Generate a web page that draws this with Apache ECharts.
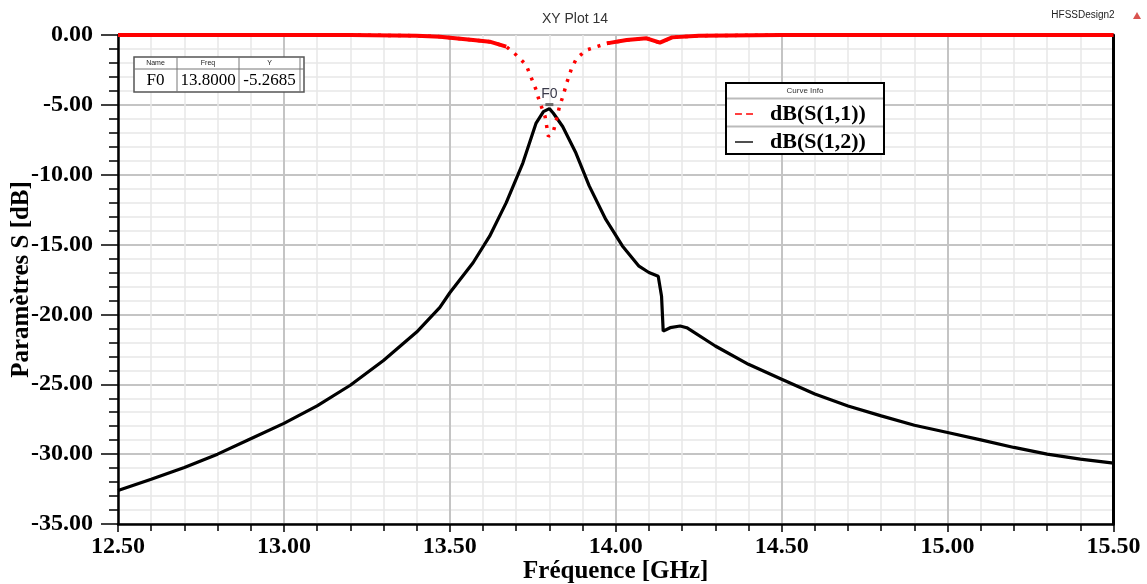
<!DOCTYPE html>
<html><head><meta charset="utf-8">
<script src="https://cdn.jsdelivr.net/npm/echarts@6/dist/echarts.min.js"></script>
<style>html,body{margin:0;padding:0;background:#fff}#c{width:1147px;height:584px}</style>
</head><body><div id="c"></div>
<script>
// ---- data ----
const chartTitle = 'XY Plot 14';
const designName = 'HFSSDesign2';
const xName = 'Fréquence [GHz]';
const yName = 'Paramètres S [dB]';
const seriesNames = ['dB(S(1,1))', 'dB(S(1,2))'];
const xRange = [12.5, 15.5, 0.5];
const yRange = [-35, 0, 5];

const s12Freq = [12.5, 12.6, 12.7, 12.8, 12.9, 13.0, 13.1, 13.2, 13.3, 13.4, 13.47, 13.5, 13.57, 13.62, 13.67, 13.72, 13.76, 13.782, 13.8, 13.812, 13.84, 13.88, 13.92, 13.97, 14.02, 14.07, 14.10, 14.128, 14.138, 14.143, 14.164, 14.194, 14.214, 14.3, 14.4, 14.5, 14.6, 14.7, 14.8, 14.9, 15.0, 15.1, 15.2, 15.3, 15.4, 15.5];
const s12Val  = [-32.6, -31.8, -30.95, -30.0, -28.9, -27.8, -26.55, -25.07, -23.3, -21.26, -19.5, -18.45, -16.3, -14.4, -12.0, -9.17, -6.3, -5.48, -5.27, -5.6, -6.55, -8.45, -10.8, -13.2, -15.1, -16.55, -17.0, -17.26, -18.7, -21.2, -20.95, -20.83, -20.95, -22.26, -23.57, -24.64, -25.7, -26.55, -27.26, -27.93, -28.45, -28.98, -29.52, -30.0, -30.36, -30.64];

const s11Freq = [12.5, 13.0, 13.2, 13.4, 13.47, 13.57, 13.62, 13.67, 13.70, 13.73, 13.74, 13.76, 13.77, 13.787, 13.797, 13.812, 13.82, 13.83, 13.842, 13.852, 13.867, 13.882, 13.912, 13.973, 14.033, 14.093, 14.133, 14.17, 14.25, 14.5, 15.0, 15.5];
const s11Val  = [0, 0, 0, -0.05, -0.12, -0.36, -0.48, -0.83, -1.43, -2.14, -2.74, -3.93, -4.76, -5.83, -7.26, -6.9, -6.19, -5.17, -4.29, -3.45, -2.38, -1.67, -1.07, -0.6, -0.36, -0.24, -0.55, -0.17, -0.05, 0, 0, 0];

const markerName = 'F0';
const markerFreq = 13.8;
const markerY = -5.2685;
const markerHeaders = ['Name', 'Freq', 'Y'];

// ---- chart ----
const serif = "'Liberation Serif','Times New Roman',serif";
const sans = "'Liberation Sans',Arial,sans-serif";
const s12Data = s12Freq.map((f, i) => [f, s12Val[i]]);
const s11All = s11Freq.map((f, i) => [f, s11Val[i]]);
const s11Flat = s11Freq.map((f, i) => [f, s11Val[i] > -1 ? s11Val[i] : null]);

const chart = echarts.init(document.getElementById('c'), null, {renderer: 'canvas'});
const labelStyle = {fontFamily: serif, fontWeight: 'bold', fontSize: 24, color: '#000'};

chart.setOption({
  animation: false,
  backgroundColor: '#fff',
  title: {
    text: chartTitle, left: 570, top: 7, textAlign: 'center',
    textStyle: {fontFamily: sans, fontSize: 14, fontWeight: 'normal', color: '#333'}
  },
  grid: {left: 118, right: 33.5, top: 35, bottom: 60, outerBoundsMode: 'none', containLabel: false,
         show: true, borderColor: '#000', borderWidth: 1, backgroundColor: 'transparent'},
  xAxis: {
    type: 'value', min: xRange[0], max: xRange[1], interval: xRange[2],
    name: xName, nameLocation: 'middle', nameGap: 35, nameMoveOverlap: false,
    nameTextStyle: {fontFamily: serif, fontWeight: 'bold', fontSize: 25, color: '#000'},
    axisLine: {show: true, onZero: false, lineStyle: {color: '#000', width: 2.5}},
    axisTick: {show: true, length: 8, lineStyle: {color: '#000', width: 1.5}},
    minorTick: {show: true, splitNumber: 5, length: 7, lineStyle: {color: '#000', width: 1.5}},
    splitLine: {show: true, lineStyle: {color: '#c4c4c4', width: 2}},
    minorSplitLine: {show: true, lineStyle: {color: '#e8e8e8', width: 1.5}},
    axisLabel: Object.assign({margin: 11, formatter: v => v.toFixed(2)}, labelStyle)
  },
  yAxis: [{
    type: 'value', min: yRange[0], max: yRange[1], interval: yRange[2],
    name: yName, nameLocation: 'middle', nameGap: 84, nameRotate: 90, nameMoveOverlap: false,
    nameTextStyle: {fontFamily: serif, fontWeight: 'bold', fontSize: 25, color: '#000'},
    axisLine: {show: true, onZero: false, lineStyle: {color: '#000', width: 2.5}},
    axisTick: {show: true, length: 17, lineStyle: {color: '#000', width: 1.5}},
    minorTick: {show: true, splitNumber: 5, length: 9, lineStyle: {color: '#000', width: 1.5}},
    splitLine: {show: true, lineStyle: {color: '#c4c4c4', width: 2}},
    minorSplitLine: {show: true, lineStyle: {color: '#e8e8e8', width: 1.5}},
    axisLabel: Object.assign({margin: 25, formatter: v => v.toFixed(2)}, labelStyle)
  }, {
    type: 'value', min: yRange[0], max: yRange[1], interval: yRange[2], position: 'right',
    axisLine: {show: true, lineStyle: {color: '#000', width: 3}},
    axisTick: {show: false}, axisLabel: {show: false}, splitLine: {show: false}
  }],
  legend: {
    orient: 'vertical', left: 730, top: 98, itemGap: 6, itemWidth: 18, itemHeight: 10, z: 10,
    data: [
      {name: seriesNames[0], icon: 'path://M0,0H5V1.2H0Z M8,0H13V1.2H8Z', itemStyle: {color: '#ff0000'}, lineStyle: {opacity: 0}},
      {name: seriesNames[1], icon: 'path://M0,0H13V1H0Z', itemStyle: {color: '#000'}, lineStyle: {opacity: 0}}
    ],
    textStyle: {fontFamily: serif, fontWeight: 'bold', fontSize: 22, color: '#000', lineHeight: 21, padding: [0, 0, 0, 12]}
  },
  graphic: [
    {type: 'rect', z: 5, shape: {x: 726, y: 83, width: 158, height: 71}, style: {fill: '#fff', stroke: '#000', lineWidth: 2}},
    {type: 'line', z: 6, shape: {x1: 727, y1: 98.5, x2: 883, y2: 98.5}, style: {stroke: '#bbb', lineWidth: 2}},
    {type: 'line', z: 6, shape: {x1: 727, y1: 126.5, x2: 883, y2: 126.5}, style: {stroke: '#bbb', lineWidth: 2}},
    {type: 'text', z: 6, x: 805, y: 91, style: {text: 'Curve Info', fontSize: 8, fontFamily: sans, fill: '#333', align: 'center', verticalAlign: 'middle'}},
    // marker table
    {type: 'rect', z: 5, shape: {x: 134, y: 57, width: 170, height: 35}, style: {fill: '#fff', stroke: '#555', lineWidth: 1.5}},
    {type: 'line', z: 6, shape: {x1: 134, y1: 69, x2: 304, y2: 69}, style: {stroke: '#777', lineWidth: 1}},
    {type: 'line', z: 6, shape: {x1: 177, y1: 57, x2: 177, y2: 92}, style: {stroke: '#777', lineWidth: 1}},
    {type: 'line', z: 6, shape: {x1: 239, y1: 57, x2: 239, y2: 92}, style: {stroke: '#777', lineWidth: 1}},
    {type: 'line', z: 6, shape: {x1: 300, y1: 57, x2: 300, y2: 92}, style: {stroke: '#777', lineWidth: 1}},
    {type: 'text', z: 6, x: 155.5, y: 63.5, style: {text: markerHeaders[0], fontSize: 7, fontFamily: sans, fill: '#222', align: 'center', verticalAlign: 'middle'}},
    {type: 'text', z: 6, x: 208, y: 63.5, style: {text: markerHeaders[1], fontSize: 7, fontFamily: sans, fill: '#222', align: 'center', verticalAlign: 'middle'}},
    {type: 'text', z: 6, x: 269.5, y: 63.5, style: {text: markerHeaders[2], fontSize: 7, fontFamily: sans, fill: '#222', align: 'center', verticalAlign: 'middle'}},
    {type: 'text', z: 6, x: 155.5, y: 81, style: {text: markerName, fontSize: 17, fontFamily: serif, fill: '#000', align: 'center', verticalAlign: 'middle'}},
    {type: 'text', z: 6, x: 208, y: 81, style: {text: markerFreq.toFixed(4), fontSize: 17, fontFamily: serif, fill: '#000', align: 'center', verticalAlign: 'middle'}},
    {type: 'text', z: 6, x: 269.5, y: 81, style: {text: markerY.toFixed(4), fontSize: 17, fontFamily: serif, fill: '#000', align: 'center', verticalAlign: 'middle'}},
    // design name and icon
    {type: 'text', x: 1083, y: 15, style: {text: designName, fontSize: 10, fontFamily: sans, fill: '#222', align: 'center', verticalAlign: 'middle'}},
    {type: 'polygon', shape: {points: [[1133, 19], [1141, 19], [1137, 12]]}, style: {fill: '#d9534f'}}
  ],
  series: [
    {
      name: seriesNames[1], type: 'line', data: s12Data, symbol: 'none', z: 3,
      lineStyle: {color: '#000', width: 3.2}, itemStyle: {color: '#000'},
      markPoint: {
        symbol: 'rect', symbolSize: [8, 3], symbolOffset: [0, -4],
        itemStyle: {color: '#666'},
        label: {show: true, formatter: markerName, position: 'top', distance: 2, fontFamily: sans, fontSize: 14, color: '#3a3a4a'},
        data: [{coord: [markerFreq, markerY]}]
      }
    },
    {
      name: seriesNames[0], type: 'line', data: s11All, symbol: 'none', clip: false, z: 4,
      lineStyle: {color: '#ff0000', width: 3.5, type: [3, 7], cap: 'butt'}, itemStyle: {color: '#ff0000'}
    },
    {
      name: seriesNames[0], type: 'line', data: s11Flat, symbol: 'none', clip: false, z: 4, connectNulls: false,
      lineStyle: {color: '#ff0000', width: 4}, itemStyle: {color: '#ff0000'}
    }
  ]
});
</script>
</body></html>
